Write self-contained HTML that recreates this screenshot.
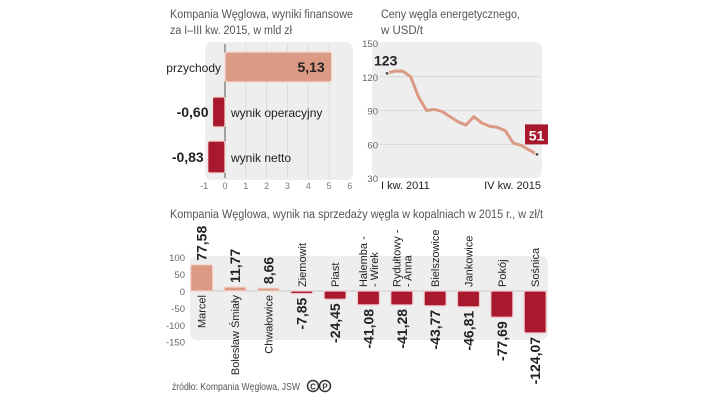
<!DOCTYPE html>
<html><head><meta charset="utf-8"><style>
html,body{margin:0;padding:0;background:#fff;}
svg text{font-family:"Liberation Sans",sans-serif;}
</style></head><body>
<svg width="720" height="405" viewBox="0 0 720 405" xmlns="http://www.w3.org/2000/svg">
<g id="fin">
<text x="170" y="18" font-size="11.5" fill="#555" textLength="183" lengthAdjust="spacingAndGlyphs">Kompania Węglowa, wyniki finansowe</text>
<text x="170" y="34" font-size="11.5" fill="#555" textLength="122" lengthAdjust="spacingAndGlyphs">za I–III kw. 2015, w mld zł</text>
<rect x="205" y="42" width="148" height="138" rx="7" fill="#eeeeee"/>
</g>
<g id="price">
<text x="381" y="18" font-size="11.5" fill="#555" textLength="139" lengthAdjust="spacingAndGlyphs">Ceny węgla energetycznego,</text>
<text x="381" y="34" font-size="11.5" fill="#555" textLength="42" lengthAdjust="spacingAndGlyphs">w USD/t</text>
<rect x="372" y="42" width="170" height="136" rx="7" fill="#eeeeee"/>
</g>
<g id="mines">
<text x="170" y="218" font-size="11.5" fill="#555" textLength="373" lengthAdjust="spacingAndGlyphs">Kompania Węglowa, wynik na sprzedaży węgla w kopalniach w 2015 r., w zł/t</text>
<rect x="190" y="256" width="358" height="84" rx="7" fill="#eeeeee"/>
</g>
<text x="172" y="390" font-size="10.5" fill="#555" textLength="128" lengthAdjust="spacingAndGlyphs">źródło: Kompania Węglowa, JSW</text>
<g>
<circle cx="313" cy="386" r="5.5" fill="none" stroke="#333" stroke-width="1.5"/>
<text x="313" y="389.5" font-size="8" font-weight="bold" text-anchor="middle" fill="#333">C</text>
<circle cx="325" cy="386" r="5.5" fill="none" stroke="#333" stroke-width="1.5"/>
<text x="325" y="389.5" font-size="8" font-weight="bold" text-anchor="middle" fill="#333">P</text>
</g>
</svg>
<script>
const NS="http://www.w3.org/2000/svg";
const svg=document.querySelector('svg');
function mk(tag,attrs,parent,txt){const e=document.createElementNS(NS,tag);for(const k in attrs)e.setAttribute(k,attrs[k]);if(txt!==undefined)e.textContent=txt;(parent||svg).appendChild(e);return e;}

// ---------- financial chart data ----------
const finCategories=["przychody","wynik operacyjny","wynik netto"];
const finValues=[5.13,-0.60,-0.83];
const finLabels=["5,13","-0,60","-0,83"];
const finTicks=[-1,0,1,2,3,4,5,6];

// ---------- price chart data ----------
const priceValues=[123,125,125,120,102,90,91,89,84.5,80,77,84.5,79,76,75,72,61,59,55,51];
const priceTicks=[30,60,90,120,150];
const priceStartLabel="I kw. 2011";
const priceEndLabel="IV kw. 2015";

// ---------- mines chart data ----------
const mineNames=[["Marcel"],["Bolesław Śmiały"],["Chwałowice"],["Ziemowit"],["Piast"],["Halemba -","- Wirek"],["Rydułtowy -","- Anna"],["Bielszowice"],["Jankowice"],["Pokój"],["Sośnica"]];
const mineValues=[77.58,11.77,8.66,-7.85,-24.45,-41.08,-41.28,-43.77,-46.81,-77.69,-124.07];
const mineLabels=["77,58","11,77","8,66","-7,85","-24,45","-41,08","-41,28","-43,77","-46,81","-77,69","-124,07"];
const mineTicks=[100,50,0,-50,-100,-150];

const POS="#dc9a84", NEG="#a8192e";

// financial
(function(){
 const g=document.getElementById('fin');
 const x=v=>225+v*20.8;
 finTicks.forEach(t=>{
  if(t>=0&&t<=5){const l=mk('line',{x1:x(t),x2:x(t),y1:44,y2:178,stroke:t===0?'#555':'#d8d8d8','stroke-width':t===0?1:0.8},g);
  }
  const tl=mk('text',{x:x(t),y:189,'font-size':9,'text-anchor':'middle',fill:'#777'},g,String(t));
  
 });
 const ys=[52,97,141], hs=[30,30,32];
 finValues.forEach((v,i)=>{
  const x0=Math.min(x(0),x(v)), w=Math.abs(x(v)-x(0));
  const r=mk('rect',{x:x0,y:ys[i],width:w,height:hs[i],fill:v>=0?POS:NEG,stroke:'#f4dcd4','stroke-width':1.2,rx:2},g);
  
  const cy=ys[i]+hs[i]/2+5;
  if(v>=0){
   const c=mk('text',{x:x(0)-4,y:cy,'font-size':12,'text-anchor':'end',fill:'#222'},g,finCategories[i]);
   
   const vl=mk('text',{x:x(v)-7,y:cy,'font-size':14,'font-weight':'bold','text-anchor':'end',fill:'#222'},g,finLabels[i]);
   
  } else {
   const c=mk('text',{x:x(0)+6,y:cy,'font-size':12,fill:'#222'},g,finCategories[i]);
   
   const vl=mk('text',{x:x(v)-4,y:cy,'font-size':14,'font-weight':'bold','text-anchor':'end',fill:'#222'},g,finLabels[i]);
   
  }
 });
})();

// price
(function(){
 const g=document.getElementById('price');
 const y=v=>178-(v-30)*1.125;
 const x=i=>387+i*(150/(priceValues.length-1));
 priceTicks.forEach(t=>{
  if(t>30&&t<150){const l=mk('line',{x1:380,x2:540,y1:y(t),y2:y(t),stroke:'#d0d0d0','stroke-width':0.8},g);
  }
  const tl=mk('text',{x:378,y:y(t)+4,'font-size':9.5,'text-anchor':'end',fill:'#666'},g,String(t));
  
 });
 const pts=priceValues.map((v,i)=>x(i).toFixed(1)+','+y(v).toFixed(1)).join(' ');
 const pl=mk('polyline',{points:pts,fill:'none',stroke:'#dc9a84','stroke-width':3,'stroke-linejoin':'round'},g);
 
 const n=priceValues.length-1;
 [0,n].forEach(i=>{const c=mk('circle',{cx:x(i),cy:y(priceValues[i]),r:2,fill:'#555',stroke:'#fff','stroke-width':1},g);
  });
 const t1=mk('text',{x:374,y:y(priceValues[0])-8,'font-size':14,'font-weight':'bold',fill:'#222'},g,String(Math.round(priceValues[0])));
 
 const by=y(priceValues[n])-30;
 const b=mk('rect',{x:525,y:by,width:23,height:20,fill:NEG},g);
 
 const t2=mk('text',{x:536.5,y:by+16,'font-size':14,'font-weight':'bold','text-anchor':'middle',fill:'#fff'},g,String(Math.round(priceValues[n])));
 
 const a=mk('text',{x:381,y:189,'font-size':11,fill:'#222'},g,priceStartLabel);
 
 const e=mk('text',{x:541,y:189,'font-size':11,'text-anchor':'end',fill:'#222'},g,priceEndLabel);
 
})();

// mines
(function(){
 const g=document.getElementById('mines');
 const y=v=>291-v*0.338;
 const cx=i=>201.7+i*33.35;
 mineTicks.forEach(t=>{
  const tl=mk('text',{x:185,y:y(t)+4,'font-size':9.5,'text-anchor':'end',fill:'#666'},g,String(t));
  
 });
 const z=mk('line',{x1:190,x2:548,y1:y(0),y2:y(0),stroke:'#bbb','stroke-width':0.8},g);
 
 mineValues.forEach((v,i)=>{
  const c=cx(i), w=22;
  const top=Math.min(y(0),y(v)), h=Math.max(Math.abs(y(v)-y(0)),2);
  const r=mk('rect',{x:c-w/2,y:top,width:w,height:h,fill:v>=0?POS:NEG,stroke:v>=0?'#f3d6cc':'#f0c8cc','stroke-width':1.2,rx:1.5},g);
  
  const names=mineNames[i];
  const lh=11;
  names.forEach((nm,k)=>{
   const off=(k-(names.length-1)/2)*lh;
   const tx=c+4+off;
   let ty, anchor;
   if(v>=0){ty=y(0)+4;anchor='end';} else {ty=y(0)-4;anchor='start';}
   const t=mk('text',{x:tx,y:ty,'font-size':11,'text-anchor':anchor,fill:'#222',transform:`rotate(-90 ${tx} ${ty})`},g,nm);
   
  });
  const vx=c+5;
  let vy,anc;
  if(v>=0){vy=y(v)-4;anc='start';} else {vy=y(v)+4;anc='end';}
  const vt=mk('text',{x:vx,y:vy,'font-size':14,'font-weight':'bold','text-anchor':anc,fill:'#222',transform:`rotate(-90 ${vx} ${vy})`},g,mineLabels[i]);
  
 });
})();
</script>
</body></html>
